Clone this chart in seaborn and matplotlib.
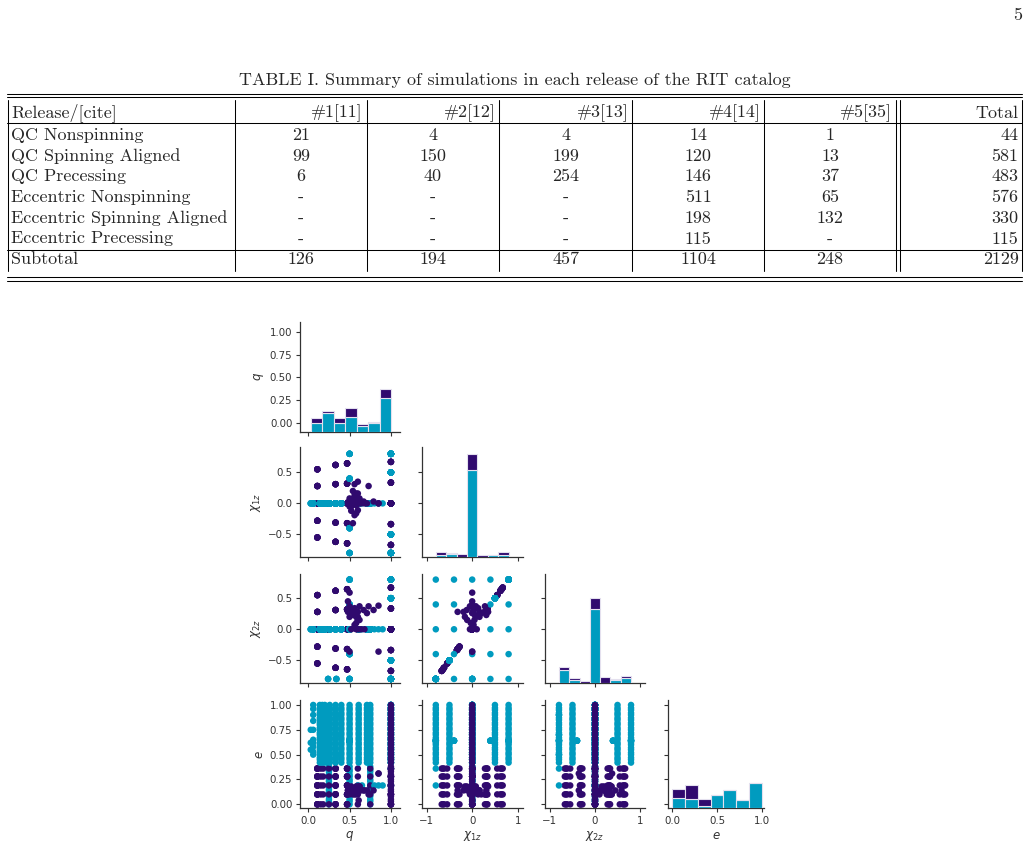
import numpy as np
import pandas as pd
import matplotlib.pyplot as plt
from matplotlib.lines import Line2D
import seaborn as sns
from itertools import product

sns.set_style("ticks")
plt.rcParams['font.family'] = ['DejaVu Sans']
SERIF = ['cmr10', 'DejaVu Serif']

# ---------------- table content ----------------
caption = "TABLE I. Summary of simulations in each release of the RIT catalog"
header = ['Release/[cite]', '#1[11]', '#2[12]', '#3[13]', '#4[14]', '#5[35]', 'Total']
categories = ['QC Nonspinning', 'QC Spinning Aligned', 'QC Precessing',
              'Eccentric Nonspinning', 'Eccentric Spinning Aligned', 'Eccentric Precessing']
rel1 = ['21', '99', '6', '-', '-', '-']
rel2 = ['4', '150', '40', '-', '-', '-']
rel3 = ['4', '199', '254', '-', '-', '-']
rel4 = ['14', '120', '146', '511', '198', '115']
rel5 = ['1', '13', '37', '65', '132', '-']
total = ['44', '581', '483', '576', '330', '115']
subtotal = ['126', '194', '457', '1104', '248', '2129']

# ---------------- histogram values (diagonal) ----------------
GROUPS = ['A', 'B']                      # A drawn dark purple (top of stack), B cyan
PAL = {'A': '#300a6e', 'B': '#009bbf'}
edges = {
    'q': [0.031, 0.170, 0.308, 0.446, 0.585, 0.723, 0.862, 1.0],
    'chi1z': [-0.8, -0.571, -0.343, -0.114, 0.114, 0.343, 0.571, 0.8],
    'chi2z': [-0.8, -0.571, -0.343, -0.114, 0.114, 0.343, 0.571, 0.8],
    'e': [0.0, 0.143, 0.286, 0.429, 0.571, 0.714, 0.857, 1.0],
}
counts_A = {
    'q': [85, 26, 75, 153, 34, 17, 153],
    'chi1z': [58, 17, 51, 267, 39, 0, 51],
    'chi2z': [58, 29, 39, 187, 102, 17, 39],
    'e': [160, 233, 109, 0, 0, 0, 0],
}
counts_B = {
    'q': [143, 323, 153, 245, 102, 143, 568],
    'chi1z': [39, 56, 0, 1484, 0, 39, 39],
    'chi2z': [226, 56, 0, 1275, 0, 56, 85],
    'e': [180, 163, 44, 231, 311, 141, 442],
}

# ---------------- scatter points ----------------
E_HI = [0.42, 0.45, 0.47, 0.5, 0.52, 0.55, 0.57, 0.6, 0.62, 0.65, 0.67, 0.7,
        0.72, 0.75, 0.77, 0.8, 0.82, 0.85, 0.87, 0.9, 0.92, 0.95, 0.97, 1.0]
E_LO = [0.0, 0.03, 0.05, 0.08, 0.1, 0.13, 0.15, 0.18, 0.2, 0.23, 0.25, 0.28,
        0.3, 0.33, 0.35, 0.38]
E_ROWS = [0.0, 0.1, 0.19, 0.28, 0.36]
E_SPARSE = [0.5, 0.53, 0.58, 0.62, 0.65, 0.75, 0.84, 0.9, 0.96, 1.0]

Q_ECC = [0.14, 0.17, 0.2, 0.26, 0.33, 0.4, 0.5, 0.61, 0.71, 0.75, 1.0]
Q_LOW_E = [0.25, 0.5, 0.75]
Q_E019 = [0.6, 0.65, 0.8, 0.85, 0.9]
Q_NS_ROWS = [0.15, 0.18, 0.25, 0.6, 0.75]
CHI_ECC = [-0.8, -0.5, 0.5, 0.8]
CHI_GRID = [-0.8, -0.4, 0.0, 0.4, 0.8]
ladder_q = [0.11, 0.33, 0.47, 1.0]
ladder_chi = [[-0.55, -0.28, 0.0, 0.28, 0.55],
              [-0.62, -0.31, 0.0, 0.31, 0.62],
              [-0.645, -0.32, 0.0, 0.32, 0.645],
              [-0.67, -0.335, 0.0, 0.335, 0.67]]
cluster = [  # q, chi1z, chi2z, e
    (0.48, 0.00, 0.45, 0.14), (0.50, 0.00, 0.59, 0.14), (0.50, -0.05, 0.37, 0.10),
    (0.48, 0.02, 0.28, 0.14), (0.52, -0.12, 0.31, 0.18), (0.52, 0.06, 0.23, 0.14),
    (0.56, 0.13, 0.34, 0.10), (0.58, 0.16, 0.28, 0.14), (0.62, 0.08, 0.37, 0.18),
    (0.67, 0.03, 0.31, 0.14), (0.71, 0.00, 0.26, 0.14), (0.73, 0.28, 0.37, 0.10),
    (0.54, -0.32, 0.28, 0.14), (0.56, -0.19, 0.28, 0.14), (0.58, -0.16, 0.20, 0.18),
    (0.60, -0.11, 0.15, 0.14), (0.58, -0.03, 0.10, 0.10), (0.56, 0.03, 0.07, 0.14),
    (0.60, 0.16, 0.20, 0.14), (0.62, 0.05, 0.15, 0.18), (0.50, 0.08, 0.20, 0.14),
    (0.54, 0.20, 0.26, 0.10), (0.79, 0.03, 0.31, 0.14), (0.56, 0.31, 0.23, 0.14),
    (0.60, 0.35, 0.28, 0.18), (0.52, -0.05, 0.00, 0.14), (0.58, 0.10, 0.00, 0.14),
    (0.50, 0.00, -0.36, 0.14), (0.85, 0.00, 0.38, 0.31), (0.85, 0.00, -0.36, 0.31),
    (0.61, 0.00, 0.00, 0.04), (0.64, 0.00, 0.00, 0.14), (0.68, 0.00, 0.00, 0.14),
]

rows = []


def add(grp, qs, spins, es):
    for q, (c1, c2), e in product(qs, spins, es):
        rows.append((grp, q, c1, c2, e))


zero = [(0.0, 0.0)]
add('B', Q_LOW_E, zero, E_LO)
add('A', Q_NS_ROWS, zero, E_ROWS)
for q, chis in zip(ladder_q, ladder_chi):
    add('A', [q], [(c, c) for c in chis], E_ROWS)
add('B', Q_ECC, zero, E_HI)
add('B', [0.06], zero, E_SPARSE)
add('B', [0.03], zero, [0.55, 0.62, 0.75])
add('B', [1.0], [(c, c) for c in CHI_ECC], E_HI)
add('B', [0.5], list(product(CHI_GRID, CHI_GRID)), [0.64])
add('B', [0.24, 0.34], [(0.0, -0.8)], [0.5, 0.7, 0.9])
add('B', Q_E019, zero, [0.19])
add('B', [1.0], [(-0.8, -0.8)], [0.19, 0.36])
for q, c1, c2, e in cluster:
    rows.append(('A', q, c1, c2, e))
add('A', [1.0], zero, E_LO + E_HI)

pts = pd.DataFrame(rows, columns=['grp', 'q', 'chi1z', 'chi2z', 'e'])

# ---------------- figure ----------------
W, H = 1030, 847
fig = plt.figure(figsize=(W / 100, H / 100), dpi=100)


def fx(x):
    return x / W


def fy(y):
    return 1 - y / H


def hline(y, x0=7, x1=1022):
    fig.add_artist(Line2D([fx(x0), fx(x1)], [fy(y), fy(y)], color='black', lw=0.75))


def vline(x, y0=100, y1=271):
    fig.add_artist(Line2D([fx(x), fx(x)], [fy(y0), fy(y1)], color='black', lw=0.75))


TS = 13
fig.text(fx(1022), fy(20.5), '5', ha='right', va='baseline', fontsize=TS, family=SERIF)
fig.text(fx(515), fy(85), caption, ha='center', va='baseline', fontsize=TS, family=SERIF)

for y in [94, 97, 123.5, 250, 277, 281]:
    hline(y)
col_edges = [7.5, 235, 367.3, 499.3, 632.3, 764.3, 896, 900, 1022]
for x in col_edges:
    vline(x)

centers = [301, 433, 565.7, 698, 830]
rights = [363, 495.5, 628.5, 760.5, 892]
fig.text(fx(11), fy(117.5), header[0], ha='left', va='baseline', fontsize=TS, family=SERIF)
for r, h in zip(rights, header[1:6]):
    fig.text(fx(r), fy(117.5), h, ha='right', va='baseline', fontsize=TS, family=SERIF)
fig.text(fx(1018.5), fy(117.5), header[6], ha='right', va='baseline', fontsize=TS, family=SERIF)

baselines = [140, 160.7, 181.4, 202.1, 222.8, 243.5]
for k, yb in enumerate(baselines):
    fig.text(fx(11), fy(yb), categories[k], ha='left', va='baseline', fontsize=TS, family=SERIF)
    for cx, col in zip(centers, [rel1, rel2, rel3, rel4, rel5]):
        fig.text(fx(cx), fy(yb), col[k], ha='center', va='baseline', fontsize=TS, family=SERIF)
    fig.text(fx(1018.5), fy(yb), total[k], ha='right', va='baseline', fontsize=TS, family=SERIF)
fig.text(fx(11), fy(264.5), 'Subtotal', ha='left', va='baseline', fontsize=TS, family=SERIF)
for cx, v in zip(centers, subtotal[:5]):
    fig.text(fx(cx), fy(264.5), v, ha='center', va='baseline', fontsize=TS, family=SERIF)
fig.text(fx(1018.5), fy(264.5), subtotal[5], ha='right', va='baseline', fontsize=TS, family=SERIF)

# ---------------- corner pair plot ----------------
VARS = ['q', 'chi1z', 'chi2z', 'e']
LABELS = {'q': '$q$', 'chi1z': r'$\chi_{1z}$', 'chi2z': r'$\chi_{2z}$', 'e': '$e$'}
XLIM = {'q': (-0.1, 1.11), 'chi1z': (-1.11, 1.11), 'chi2z': (-1.11, 1.11), 'e': (-0.041, 1.022)}
YLIM = {'q': (-0.1, 1.11), 'chi1z': (-0.87, 0.91), 'chi2z': (-0.87, 0.89), 'e': (-0.04, 1.05)}
XTICKS = {'q': [0, 0.5, 1], 'chi1z': [-1, 0, 1], 'chi2z': [-1, 0, 1], 'e': [0, 0.5, 1]}
YTICKS = {'q': [0, 0.25, 0.5, 0.75, 1], 'chi1z': [-0.5, 0, 0.5],
          'chi2z': [-0.5, 0, 0.5], 'e': [0, 0.25, 0.5, 0.75, 1]}
COL_L = [300, 421.7, 545, 668.3]
COL_W = [100, 101, 100, 95.7]
ROW_T = [322, 447, 574, 700]
ROW_B = [431.7, 557.3, 683.3, 808.3]

for i, vy in enumerate(VARS):
    for j, vx in enumerate(VARS[:i + 1]):
        ax = fig.add_axes([fx(COL_L[j]), fy(ROW_B[i]), COL_W[j] / W, (ROW_B[i] - ROW_T[i]) / H])
        if i == j:
            ed = np.array(edges[vx])
            mid = (ed[:-1] + ed[1:]) / 2
            hd = pd.DataFrame({'x': np.concatenate([mid, mid]),
                               'w': counts_A[vx] + counts_B[vx],
                               'grp': ['A'] * 7 + ['B'] * 7})
            tw = ax.twinx()
            sns.histplot(data=hd, x='x', weights='w', hue='grp', hue_order=GROUPS,
                         palette=PAL, bins=edges[vx], multiple='stack', alpha=1,
                         edgecolor='#e4e0ee', linewidth=0.8, legend=False, ax=tw)
            tw.set_ylim(0, 1870)
            tw.set_axis_off()
        else:
            sns.scatterplot(data=pts, x=vx, y=vy, hue='grp', hue_order=GROUPS,
                            palette=PAL, s=22, linewidth=0, legend=False, ax=ax)
        ax.set_xlim(XLIM[vx])
        ax.set_ylim(YLIM[vy])
        ax.set_xticks(XTICKS[vx])
        ax.set_yticks(YTICKS[vy])
        ax.tick_params(length=3, width=0.8, pad=2.5, labelsize=7.4, colors='.2')
        for sp in ['top', 'right']:
            ax.spines[sp].set_visible(False)
        for sp in ['left', 'bottom']:
            ax.spines[sp].set_linewidth(0.9)
            ax.spines[sp].set_color('.2')
        ax.set_xlabel(LABELS[vx] if i == 3 else '', fontsize=8.5, color='.2', labelpad=2)
        ax.set_ylabel(LABELS[vy] if j == 0 else '', fontsize=8.5, color='.2', labelpad=3)
        if i < 3:
            ax.tick_params(labelbottom=False)
        if j > 0:
            ax.tick_params(labelleft=False)

fig.savefig('out.png', dpi=100)
